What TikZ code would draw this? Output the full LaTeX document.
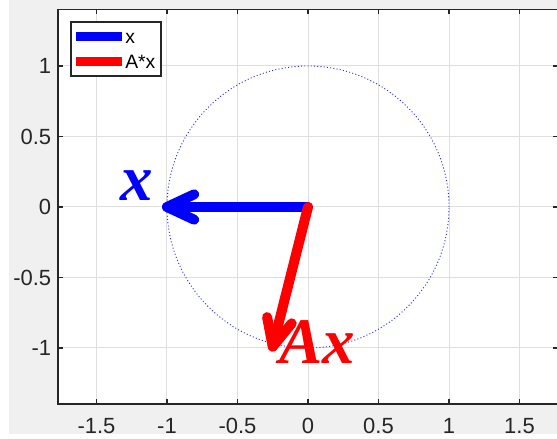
\documentclass[tikz,border=0pt]{standalone}
\usepackage{fontspec}
\setmainfont{Liberation Sans}
\newfontfamily\vecfont{Liberation Serif}
\usepackage{tikz}
\usetikzlibrary{calc}

\definecolor{figbg}{HTML}{F0F0F0}
\definecolor{gridgray}{HTML}{DFDFDF}
\definecolor{axisblack}{HTML}{262626}

\begin{document}
\begin{tikzpicture}[x=2.82cm, y=2.82cm,
  gridline/.style={gridgray, line width=0.02cm},
  axisline/.style={axisblack, line width=0.025cm},
  ticklabel/.style={font=\fontsize{12.5}{14}\selectfont, text=axisblack, inner sep=0pt},
  legtext/.style={font=\fontsize{11}{13}\selectfont, text=black, inner sep=0pt, anchor=base west},
  vecx/.style={blue, line width=0.2cm, line cap=round, line join=round},
  vecAx/.style={red, line width=0.2cm, line cap=round, line join=round},
  veclabel/.style={font=\vecfont\bfseries\itshape\fontsize{37}{42}\selectfont, inner sep=0pt}]

% Frame of the figure
\useasboundingbox (-2.1844,-1.6454) rectangle (1.7660,1.4681);
\clip (-2.1844,-1.6454) rectangle (1.7660,1.4681);
\fill[figbg] (-2.1206,-1.61) rectangle (1.766,1.4681);
\fill[white] (-1.773,-1.397) rectangle (1.773,1.4007);

% Grid
\foreach \g in {-1.5,-1,-0.5,0,0.5,1,1.5}
    \draw[gridline] (\g,-1.397) -- (\g,1.4007);
\foreach \g in {-1,-0.5,0,0.5,1}
    \draw[gridline] (-1.773,\g) -- (1.773,\g);

% Unit circle
\draw[blue!85, line width=0.018cm, dash pattern=on 0.02cm off 0.045cm] (0,0) circle (1);

% Axes box and ticks
\draw[axisline] (-1.773,-1.397) rectangle (1.773,1.4007);
\foreach \t [count=\i] in {-1.5,-1,-0.5,0,0.5,1,1.5} {
    \draw[axisline] (\t,-1.397) -- ++(0,0.0355);
    \draw[axisline] (\t,1.4007) -- ++(0,-0.0355);
    \node[ticklabel] (xt\i) at (\t,-1.553) {\t};
}
\foreach \t [count=\i] in {-1,-0.5,0,0.5,1} {
    \draw[axisline] (-1.773,\t) -- ++(0.0355,0);
    \draw[axisline] (1.773,\t) -- ++(-0.0355,0);
    \node[ticklabel, anchor=east] (yt\i) at (-1.819,\t) {\t};
}

% Vectors
\coordinate (O) at (0,0);
\coordinate (xtip) at (-1,0);
\coordinate (Axtip) at (-0.25,-0.99);
\draw[vecx] (O) -- (xtip);
\draw[vecx] ($(xtip)!0.6cm!25:(O)$) -- (xtip) -- ($(xtip)!0.6cm!-25:(O)$);
\draw[vecAx] (O) -- (Axtip);
\draw[vecAx] ($(Axtip)!0.6cm!25:(O)$) -- (Axtip) -- ($(Axtip)!0.6cm!-25:(O)$);

\node[veclabel, blue] (xlab) at (-1.213,0.149) {x};
\node[veclabel, red] (Axlab) at (0.067,-0.961) {Ax};

% Legend
\draw[axisline, fill=white] (-1.681,0.929) rectangle (-1.0426,1.312);
\draw[blue, line width=0.18cm] (-1.645,1.209) -- (-1.319,1.209);
\draw[red, line width=0.18cm] (-1.645,1.032) -- (-1.319,1.032);
\node[legtext] (legx) at (-1.298,1.161) {x};
\node[legtext] (legAx) at (-1.298,0.984) {A*x};
\end{tikzpicture}
\end{document}
